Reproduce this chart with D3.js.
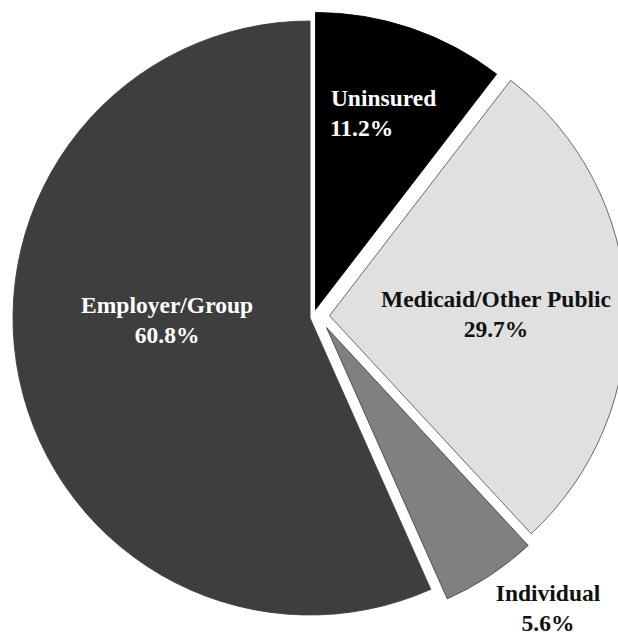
<!DOCTYPE html>
<html>
<head>
<meta charset="utf-8">
<script src="https://cdn.jsdelivr.net/npm/d3@7"></script>
<style>
  html, body { margin: 0; padding: 0; background: #ffffff; }
  svg { display: block; }
  .lbl { font-family: "Liberation Serif", "DejaVu Serif", serif; font-weight: bold; font-size: 23.5px; }
</style>
</head>
<body>
<svg id="chart" width="618" height="635"></svg>
<script>
// Health coverage shares (percent); categories overlap, so the pie is drawn proportionally.
const categories = ["Uninsured", "Medicaid/Other Public", "Individual", "Employer/Group"];
const values = [11.2, 29.7, 5.6, 60.8];
const valueLabels = ["11.2%", "29.7%", "5.6%", "60.8%"];

// Styling and layout
const fills = ["#000000", "#e0e0e0", "#808080", "#3e3e3e"];
const strokes = ["#000000", "#5a5a5a", "#444444", "#3e3e3e"];
const textColors = ["#ffffff", "#111111", "#111111", "#ffffff"];
const explode = [[5.5, -8.5], [19.5, -2.3], [16.5, 9.5], [0, 0]];   // slice offsets
const labelPolar = [[206, 19.3], [166.5, 90.1], [359, 141.9], [143, 268.4]]; // radius, degrees clockwise from top
const valueShift = [-22, 0, 0, 0];   // horizontal nudge of the percentage line

const width = 618, height = 635;
const cx = 310, cy = 318, R = 297;

const svg = d3.select("#chart");
const g = svg.append("g").attr("transform", `translate(${cx},${cy})`);

const pie = d3.pie().sort(null).startAngle(0).endAngle(2 * Math.PI);
const arcs = pie(values);
const arc = d3.arc().innerRadius(0).outerRadius(R);

const slices = g.selectAll("g.slice")
  .data(arcs)
  .enter().append("g")
  .attr("class", "slice")
  .attr("transform", (d, i) => `translate(${explode[i][0]},${explode[i][1]})`);

slices.append("path")
  .attr("d", arc)
  .attr("fill", (d, i) => fills[i])
  .attr("stroke", (d, i) => strokes[i])
  .attr("stroke-width", 0.9);

// Two-line labels: category name over percentage
slices.each(function (d, i) {
  const [r, deg] = labelPolar[i];
  const a = deg * Math.PI / 180;
  const x = r * Math.sin(a), y = -r * Math.cos(a);
  const t = d3.select(this).append("text")
    .attr("class", "lbl")
    .attr("text-anchor", "middle")
    .attr("fill", textColors[i])
    .attr("x", x).attr("y", y);
  t.append("tspan").attr("x", x).attr("dy", -9).text(categories[i]);
  t.append("tspan").attr("x", x + valueShift[i]).attr("dy", 30).text(valueLabels[i]);
});
</script>
</body>
</html>
